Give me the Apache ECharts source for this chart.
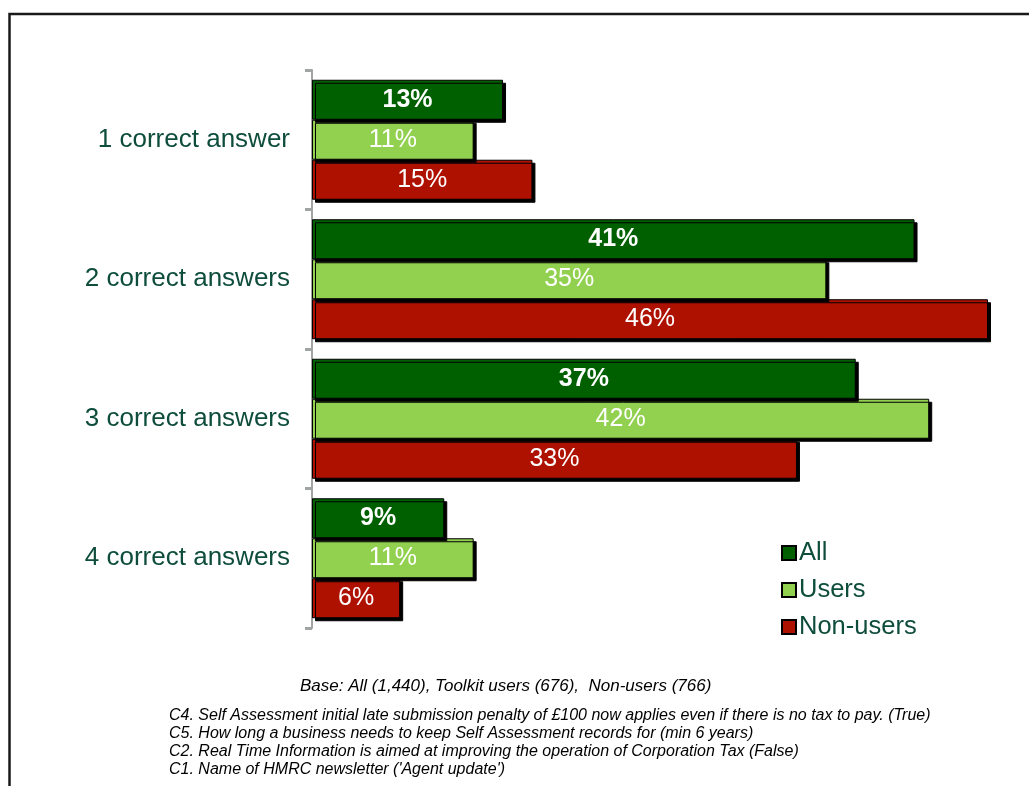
<!DOCTYPE html>
<html>
<head>
<meta charset="utf-8">
<script src="https://cdn.jsdelivr.net/npm/echarts@6/dist/echarts.min.js"></script>
<style>
  html, body { margin: 0; padding: 0; background: #fff; }
  #chart { width: 1029px; height: 786px; }
</style>
</head>
<body>
<div id="chart"></div>
<script>
// Number of correct answers to the four knowledge questions
const categories = ['1 correct answer', '2 correct answers', '3 correct answers', '4 correct answers'];
const seriesNames = ['All', 'Users', 'Non-users'];
const allValues = [13, 41, 37, 9];
const usersValues = [11, 35, 42, 11];
const nonUsersValues = [15, 46, 33, 6];

const baseNote = 'Base: All (1,440), Toolkit users (676),  Non-users (766)';
const questionNotes = [
  'C4. Self Assessment initial late submission penalty of £100 now applies even if there is no tax to pay. (True)',
  'C5. How long a business needs to keep Self Assessment records for (min 6 years)',
  'C2. Real Time Information is aimed at improving the operation of Corporation Tax (False)',
  "C1. Name of HMRC newsletter ('Agent update')"
];

const textColor = '#0e4d3c';
const fontFamily = '"Liberation Sans", Arial, sans-serif';

function barSeries(name, values, color, bold, z) {
  return {
    name: name,
    type: 'bar',
    data: values,
    barGap: '0%',
    barCategoryGap: '14%',
    z: z,
    itemStyle: {
      color: color,
      borderColor: '#000',
      borderWidth: 1,
      shadowColor: '#000',
      shadowBlur: 0,
      shadowOffsetX: 3,
      shadowOffsetY: 3
    },
    label: {
      show: true,
      position: 'inside',
      formatter: '{c}%',
      color: '#fff',
      fontFamily: fontFamily,
      fontSize: 25,
      fontWeight: bold ? 'bold' : 'normal'
    },
    emphasis: { disabled: true }
  };
}

const chart = echarts.init(document.getElementById('chart'), null, { renderer: 'canvas' });

const noteGraphics = questionNotes.map((t, i) => ({
  type: 'text',
  left: 169,
  top: 708 + i * 18,
  style: {
    text: t,
    fill: '#000',
    font: 'italic 16px ' + fontFamily
  }
}));

chart.setOption({
  animation: false,
  backgroundColor: '#fff',
  grid: { left: 312, top: 70, width: 676, height: 558, containLabel: false },
  xAxis: {
    type: 'value',
    min: 0,
    max: 46,
    show: false
  },
  yAxis: {
    type: 'category',
    data: categories,
    inverse: true,
    axisLine: { show: true, lineStyle: { color: '#a0a4a2', width: 2 } },
    axisTick: { show: true, length: 7, lineStyle: { color: '#a0a4a2', width: 3 } },
    axisLabel: {
      color: textColor,
      fontFamily: fontFamily,
      fontSize: 26,
      margin: 22
    },
    splitLine: { show: false }
  },
  legend: {
    data: seriesNames,
    orient: 'vertical',
    left: 776,
    top: 535,
    itemWidth: 14,
    itemHeight: 14,
    itemGap: 11,
    icon: 'rect',
    textStyle: { color: textColor, fontFamily: fontFamily, fontSize: 25.5, padding: [0, 0, 0, -2] }
  },
  series: [
    barSeries('All', allValues, '#006000', true, 4),
    barSeries('Users', usersValues, '#92d050', false, 3),
    barSeries('Non-users', nonUsersValues, '#ae1100', false, 2)
  ],
  graphic: [
    {
      type: 'rect',
      shape: { x: 9.5, y: 14, width: 1100, height: 900 },
      style: { fill: 'none', stroke: '#1a1a1a', lineWidth: 2.5 },
      silent: true
    },
    {
      type: 'text',
      left: 300,
      top: 678,
      style: {
        text: baseNote,
        fill: '#000',
        font: 'italic 17px ' + fontFamily
      }
    }
  ].concat(noteGraphics)
});
</script>
</body>
</html>
